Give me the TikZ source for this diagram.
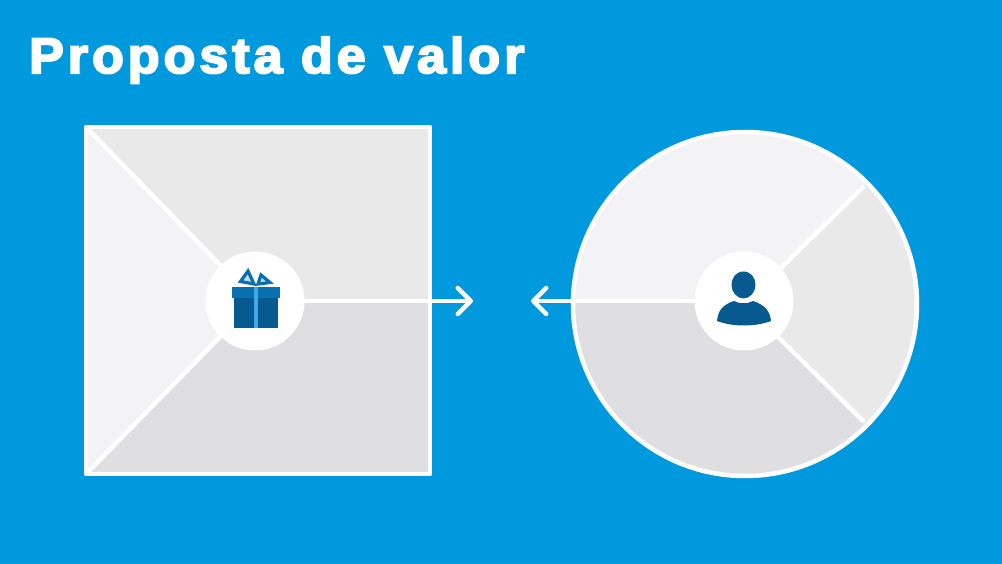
\documentclass[tikz,border=0pt]{standalone}
\usepackage{fontspec}
\setmainfont{Liberation Sans}
\font\titlefont="Liberation Sans Bold:embolden=4;extend=1.04;letterspace=8" at 50pt
\usetikzlibrary{arrows.meta}
\definecolor{bgblue}{HTML}{0099DD}
\definecolor{paneA}{HTML}{F3F3F5}
\definecolor{paneB}{HTML}{E9E9E9}
\definecolor{paneC}{HTML}{DFDFE1}
\definecolor{iconDark}{HTML}{065A90}
\definecolor{iconMid}{HTML}{0A6FB0}
\definecolor{iconLight}{HTML}{3FA9EA}
\tikzset{
  divider/.style={draw=white,line width=4.5pt},
  outline/.style={draw=white,line width=4.5pt,line join=round},
  hub/.style={circle,fill=white,minimum size=99pt,inner sep=0pt},
  pointer/.style={draw=white,line width=4.5pt,-{Straight Barb[length=13pt,width=26pt,line width=4.5pt,round]}},
}
\begin{document}
\begin{tikzpicture}[x=1pt,y=-1pt]
\useasboundingbox (0,0) rectangle (1002,564);
\fill[bgblue] (0,0) rectangle (1002,564);
\node[anchor=base west,text=white,inner sep=0pt,font=\titlefont] (title) at (29,73) {Proposta de valor};

% square
\coordinate (sqc) at (255,301);
\fill[paneB] (86,127) -- (sqc) -- (430,301) -- (430,127) -- cycle;
\fill[paneC] (86,474) -- (sqc) -- (430,301) -- (430,474) -- cycle;
\fill[paneA] (86,127) -- (sqc) -- (86,474) -- cycle;
\draw[divider] (86,127) -- (sqc);
\draw[divider] (86,474) -- (sqc);
\draw[outline] (86,127) rectangle (430,474);

% circle
\coordinate (cic) at (745,304);
\begin{scope}
\clip (cic) circle[radius=172];
\fill[paneC] (560,301) -- (cic) -- (900,460) -- (560,500) -- cycle;
\fill[paneB] (cic) -- (900,150) -- (930,150) -- (930,460) -- (900,460) -- cycle;
\fill[paneA] (560,301) -- (cic) -- (900,150) -- (900,120) -- (560,120) -- cycle;
\end{scope}
\draw[divider] (cic) -- (864,186);
\draw[divider] (cic) -- (864,422);
\draw[outline] (cic) circle[radius=172];

% arrows
\coordinate (la) at (473,301);
\coordinate (ra) at (531,301);
\draw[pointer] (sqc) -- (la);
\draw[pointer] (744,301) -- (ra);

% hubs
\node[hub] (sqhub) at (sqc) {};
\node[hub] (cihub) at (744,301) {};

% gift
\fill[iconDark] (234,298) rectangle (278,328);
\fill[iconMid] (232,287) rectangle (280,298);
\draw[iconMid,line width=3.2pt,line join=miter,fill=white!65!iconLight] (254,284) -- (240.5,281.5) -- (248,271) -- cycle;
\draw[iconMid,line width=3.2pt,line join=miter,fill=white!65!iconLight] (258,284) -- (270,282.5) -- (261,275) -- cycle;
\fill[iconLight] (253.5,287) rectangle (257.5,328);

% person
\fill[iconDark] (743.5,271.5) .. controls (751,271.5) and (755.5,278) .. (755.5,285) .. controls (755.5,292) and (750,298.5) .. (743.5,298.5) .. controls (737,298.5) and (731.5,292) .. (731.5,285) .. controls (731.5,278) and (736,271.5) .. (743.5,271.5) -- cycle;
\fill[iconDark] (717,321) .. controls (718,311) and (722,305) .. (734,301) .. controls (739,304) and (748,304) .. (753,301) .. controls (765,305) and (770,311) .. (771,321) .. controls (755,327) and (733,327) .. (717,321) -- cycle;
\end{tikzpicture}
\end{document}
